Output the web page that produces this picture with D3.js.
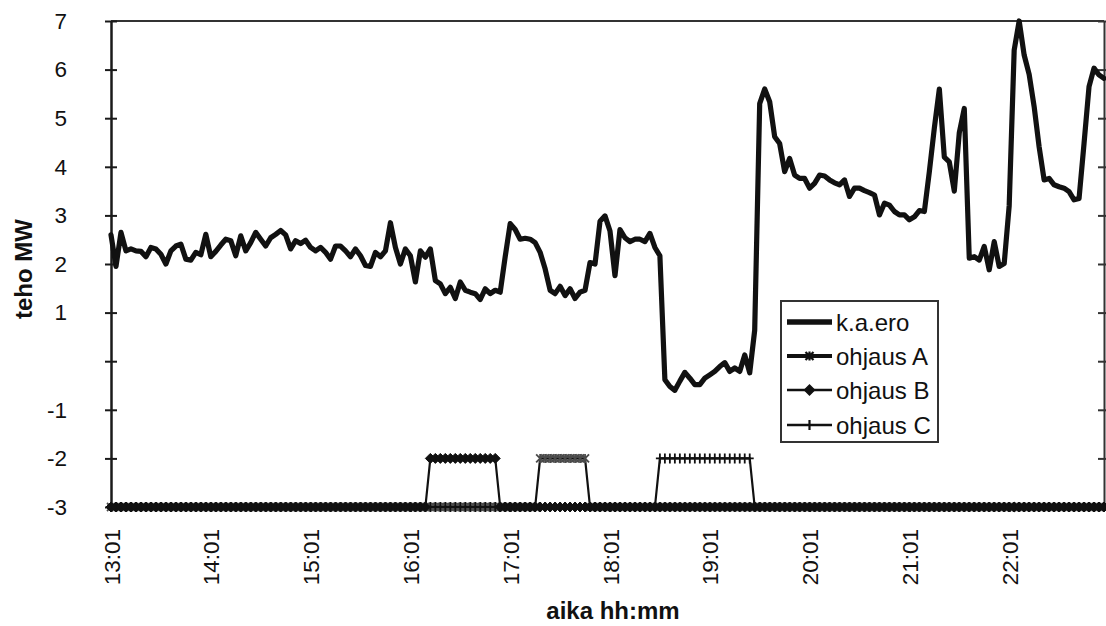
<!DOCTYPE html>
<html>
<head>
<meta charset="utf-8">
<script src="https://cdn.jsdelivr.net/npm/d3@7"></script>
<style>
  body { margin: 0; background: #fff; }
  text { font-family: "Liberation Sans", Arial, sans-serif; fill: #111; }
</style>
</head>
<body>
<svg id="chart" width="1106" height="626"></svg>
<script>
// Sampling: one value every 3 minutes starting at 13:01
const startTime = "13:01";
const stepMinutes = 3;

// k.a.ero, MW
const kaEro = [
  2.6, 1.95, 2.65, 2.27, 2.31, 2.27, 2.26, 2.15, 2.34, 2.31,
  2.2, 2.0, 2.27, 2.37, 2.41, 2.1, 2.08, 2.24, 2.19, 2.61,
  2.15, 2.26, 2.39, 2.51, 2.48, 2.17, 2.58, 2.27, 2.44, 2.65,
  2.51, 2.37, 2.54, 2.61, 2.69, 2.6, 2.31, 2.48, 2.42, 2.49,
  2.34, 2.27, 2.34, 2.24, 2.1, 2.37, 2.37, 2.27, 2.15, 2.31,
  2.17, 1.97, 1.95, 2.24, 2.15, 2.27, 2.85, 2.34, 2.0, 2.31,
  2.17, 1.63, 2.27, 2.14, 2.31, 1.66, 1.59, 1.39, 1.52, 1.29,
  1.63, 1.46, 1.42, 1.39, 1.27, 1.49, 1.39, 1.46, 1.42, 2.15,
  2.83, 2.71, 2.51, 2.53, 2.51, 2.44, 2.24, 1.9, 1.46, 1.39,
  1.54, 1.35, 1.49, 1.29, 1.42, 1.46, 2.03, 2.0, 2.88, 2.99,
  2.68, 1.76, 2.71, 2.54, 2.46, 2.51, 2.51, 2.46, 2.63, 2.34,
  2.17, -0.38, -0.52, -0.6, -0.41, -0.23, -0.35, -0.48, -0.48, -0.35,
  -0.28, -0.21, -0.11, -0.03, -0.21, -0.14, -0.21, 0.13, -0.24, 0.64,
  5.3, 5.6, 5.34, 4.62, 4.48, 3.9, 4.17, 3.83, 3.76, 3.76,
  3.56, 3.66, 3.83, 3.81, 3.73, 3.67, 3.63, 3.73, 3.39, 3.56,
  3.56, 3.51, 3.47, 3.42, 3.01, 3.25, 3.21, 3.08, 3.01, 3.01,
  2.91, 2.97, 3.1, 3.08, 3.9, 4.8, 5.6, 4.2, 4.1, 3.5,
  4.7, 5.2, 2.12, 2.15, 2.08, 2.36, 1.88, 2.46, 1.95, 2.01,
  3.2, 6.4, 7.0, 6.3, 5.9, 5.24, 4.41, 3.73, 3.76, 3.63,
  3.59, 3.56, 3.49, 3.32, 3.35, 4.48, 5.65, 6.03, 5.89, 5.82
];

// Control signals as runs of [level, number of samples]
const ohjausA = [[-3, 86], [-2, 10], [-3, 104]];
const ohjausB = [[-3, 64], [-2, 14], [-3, 122]];
const ohjausC = [[-3, 110], [-2, 19], [-3, 71]];

const xTickLabels = ["13:01", "14:01", "15:01", "16:01", "17:01", "18:01", "19:01", "20:01", "21:01", "22:01"];
const yTickValues = [-3, -2, -1, 0, 1, 2, 3, 4, 5, 6, 7];
const yTickLabels = ["-3", "-2", "-1", "", "1", "2", "3", "4", "5", "6", "7"];

const seriesNames = ["k.a.ero", "ohjaus A", "ohjaus B", "ohjaus C"];

// ---- build helpers ----
function toMinutes(s) { const [h, m] = s.split(":").map(Number); return h * 60 + m; }
function fmt(min) { const h = Math.floor(min / 60), m = min % 60; return h + ":" + String(m).padStart(2, "0"); }
const t0 = toMinutes(startTime);
const times = kaEro.map((_, i) => fmt(t0 + i * stepMinutes));
function expandRuns(runs) { const out = []; runs.forEach(([v, n]) => { for (let k = 0; k < n; k++) out.push(v); }); return out; }

const svg = d3.select("#chart");
const plotLeft = 111, plotRight = 1104, plotTop = 21, plotBottom = 507;

const x = d3.scaleLinear().domain([0, times.length - 1]).range([plotLeft, plotRight]);
const y = d3.scaleLinear().domain([-3, 7]).range([plotBottom, plotTop]);

const ink = "#1a1a1a";

// ---- frame ----
svg.append("line").attr("x1", plotLeft).attr("x2", plotRight).attr("y1", plotTop).attr("y2", plotTop)
  .attr("stroke", "#333").attr("stroke-width", 2);

const yAxis = d3.axisLeft(y).tickValues(yTickValues)
  .tickFormat((d, i) => yTickLabels[i]).tickSizeInner(6).tickSizeOuter(0);
const gy = svg.append("g").attr("transform", `translate(${plotLeft},0)`).call(yAxis);
gy.select(".domain").attr("stroke", ink).attr("stroke-width", 2.5);
gy.selectAll(".tick line").attr("stroke", ink).attr("stroke-width", 2).attr("x1", 6).attr("x2", -6);
gy.selectAll(".tick text").attr("font-size", 22.5).style("fill", "#111").attr("x", -44);

const yAxisR = d3.axisRight(y).tickValues(yTickValues).tickFormat("").tickSizeInner(6).tickSizeOuter(0);
const gr = svg.append("g").attr("transform", `translate(${plotRight},0)`).call(yAxisR);
gr.select(".domain").attr("stroke", "#333").attr("stroke-width", 2);
gr.selectAll(".tick line").attr("stroke", "#333").attr("stroke-width", 2).attr("x1", -6).attr("x2", 6);

const xTickIdx = xTickLabels.map(l => times.indexOf(l));
const xAxis = d3.axisBottom(x).tickValues(xTickIdx).tickFormat((d, i) => xTickLabels[i])
  .tickSizeInner(5).tickSizeOuter(0);
const gx = svg.append("g").attr("transform", `translate(0,${plotBottom})`).call(xAxis);
gx.select(".domain").attr("stroke", ink).attr("stroke-width", 2);
gx.selectAll(".tick line").attr("stroke", ink).attr("stroke-width", 2);
gx.selectAll(".tick text")
  .attr("font-size", 22.5).style("fill", "#111")
  .attr("text-anchor", "end")
  .attr("transform", "translate(0,22) rotate(-90)")
  .attr("x", 0).attr("y", 0).attr("dy", "0.36em");

// ---- axis titles ----
svg.append("text").attr("transform", `translate(32,269) rotate(-90)`)
  .attr("text-anchor", "middle").attr("font-size", 24).attr("font-weight", "bold").text("teho MW");
svg.append("text").attr("x", 613).attr("y", 619)
  .attr("text-anchor", "middle").attr("font-size", 24).attr("font-weight", "bold").text("aika hh:mm");

// ---- marker shapes ----
const markerA = "M-4,-4L4,4M-4,4L4,-4M0,-4.5L0,4.5";
const markerB = "M0,-5L5,0L0,5L-5,0Z";
const markerC = "M0,-5L0,5M-4,0L4,0";

const controls = [
  { name: seriesNames[1], values: expandRuns(ohjausA), marker: markerA, color: "#4a4a4a", fill: "none", mw: 1.8 },
  { name: seriesNames[2], values: expandRuns(ohjausB), marker: markerB, color: "#111", fill: "#111", mw: 1 },
  { name: seriesNames[3], values: expandRuns(ohjausC), marker: markerC, color: "#111", fill: "none", mw: 1.8 }
];

const line = d3.line().x((d, i) => x(i)).y(d => y(d));

controls.forEach(s => {
  const g = svg.append("g");
  g.append("path").datum(s.values).attr("d", line)
    .attr("fill", "none").attr("stroke", "#111").attr("stroke-width", 2.2);
  g.selectAll("path.m").data(s.values).join("path").attr("class", "m")
    .attr("transform", (d, i) => `translate(${x(i)},${y(d)})`)
    .attr("d", s.marker).attr("fill", s.fill).attr("stroke", s.color).attr("stroke-width", s.mw);
});

// ---- main series ----
svg.append("path").datum(kaEro).attr("d", line)
  .attr("fill", "none").attr("stroke", "#111").attr("stroke-width", 5.2)
  .attr("stroke-linejoin", "round").attr("stroke-linecap", "round");

// ---- legend ----
const lg = svg.append("g");
lg.append("rect").attr("x", 781).attr("y", 301).attr("width", 157).attr("height", 141)
  .attr("fill", "#fff").attr("stroke", "#333").attr("stroke-width", 2);
const rowsY = [322, 356, 390, 425];
const legendItems = [
  { name: seriesNames[0], width: 5.5, marker: null },
  ...controls.map((c, k) => ({ name: c.name, width: k === 0 ? 4 : 2.5, marker: c }))
];
legendItems.forEach((it, k) => {
  const yy = rowsY[k];
  lg.append("line").attr("x1", 787).attr("x2", 832).attr("y1", yy).attr("y2", yy)
    .attr("stroke", "#111").attr("stroke-width", it.width);
  if (it.marker) {
    lg.append("path").attr("transform", `translate(809.5,${yy})`).attr("d", it.marker.marker)
      .attr("fill", it.marker.fill).attr("stroke", "#111").attr("stroke-width", it.marker.mw + 0.4);
  }
  lg.append("text").attr("x", 836).attr("y", yy).attr("dy", "0.36em")
    .attr("font-size", 24).text(it.name);
});
</script>
</body>
</html>
